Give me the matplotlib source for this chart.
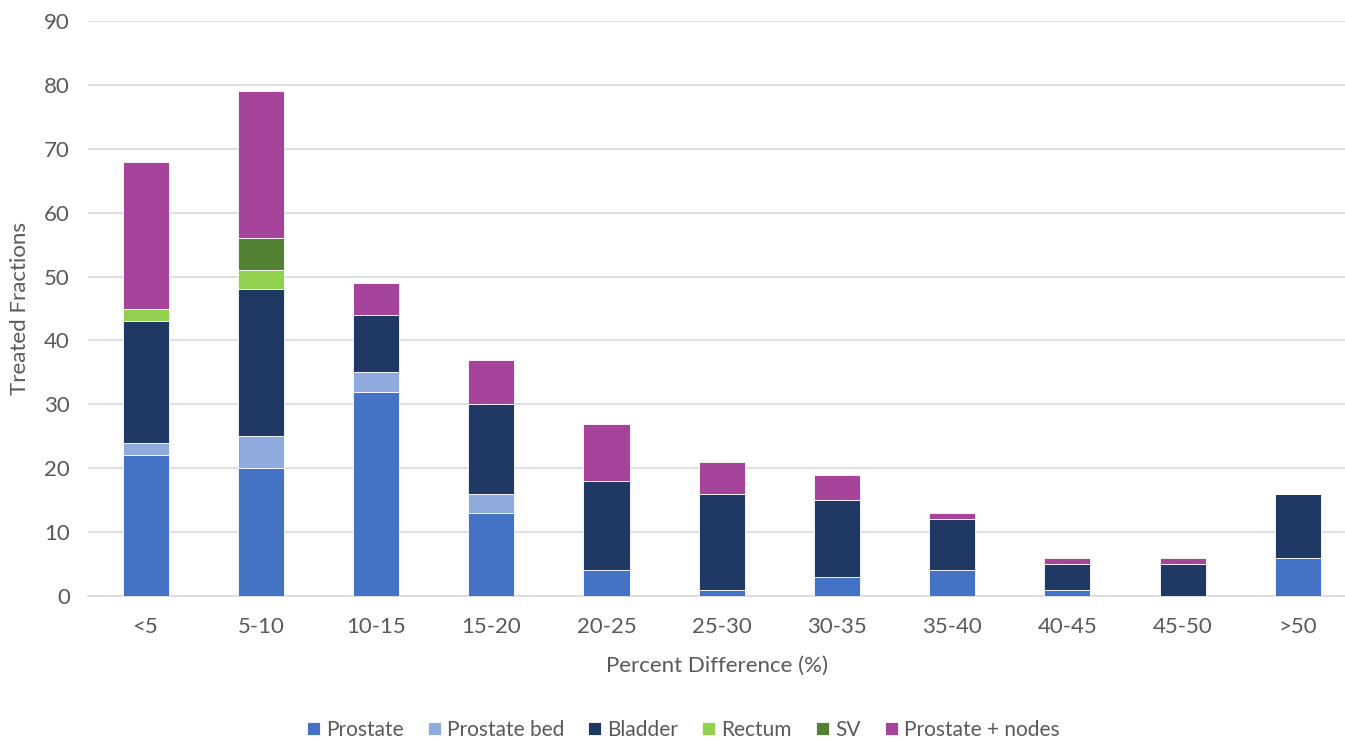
import matplotlib.pyplot as plt
import numpy as np

# Treated fractions per percent-difference bin, stacked by treatment site
bins = ["<5", "5-10", "10-15", "15-20", "20-25", "25-30", "30-35", "35-40", "40-45", "45-50", ">50"]
prostate = [22, 20, 32, 13, 4, 1, 3, 4, 1, 0, 6]
prostate_bed = [2, 5, 3, 3, 0, 0, 0, 0, 0, 0, 0]
bladder = [19, 23, 9, 14, 14, 15, 12, 8, 4, 5, 10]
rectum = [2, 3, 0, 0, 0, 0, 0, 0, 0, 0, 0]
sv = [0, 5, 0, 0, 0, 0, 0, 0, 0, 0, 0]
prostate_nodes = [23, 23, 5, 7, 9, 5, 4, 1, 1, 1, 0]

series = [
    ("Prostate", prostate, "#4472C4"),
    ("Prostate bed", prostate_bed, "#8FAADC"),
    ("Bladder", bladder, "#1F3864"),
    ("Rectum", rectum, "#92D050"),
    ("SV", sv, "#548235"),
    ("Prostate + nodes", prostate_nodes, "#A5449A"),
]

plt.rcParams["font.family"] = ["Lato", "DejaVu Sans"]
text_col = "#595959"

fig = plt.figure(figsize=(13.45, 7.41), dpi=100)
ax = fig.add_axes([88 / 1345, 1 - 596 / 741, 1 - 88 / 1345, 575 / 741])

x = np.arange(len(bins))
bottom = np.zeros(len(bins))
for name, vals, col in series:
    vals = np.array(vals, dtype=float)
    ax.bar(x, vals, width=0.4, bottom=bottom, color=col, label=name,
           edgecolor="white", linewidth=0.6, zorder=3)
    bottom += vals

ax.set_ylim(0, 90)
ax.set_yticks(range(0, 91, 10))
ax.set_xlim(-0.5, 10.41)
ax.set_xticks(x)
ax.set_xticklabels(bins)
ax.grid(axis="y", color="#D9D9D9", linewidth=1.2, zorder=0)
for s in ["top", "right", "left"]:
    ax.spines[s].set_visible(False)
ax.spines["bottom"].set_color("#D9D9D9")
ax.spines["bottom"].set_linewidth(1.2)
ax.tick_params(length=0, labelsize=16, colors=text_col)
ax.tick_params(axis="x", pad=15)
ax.tick_params(axis="y", pad=13)

ax.set_xlabel("Percent Difference (%)", fontsize=16, color=text_col, labelpad=14)
ax.set_ylabel("Treated Fractions", fontsize=16, color=text_col)
ax.yaxis.set_label_coords(-0.046, 0.5)

leg = fig.legend(loc="center", bbox_to_anchor=(0.508, 1 - 730 / 741), ncol=6,
                 frameon=False, fontsize=15, handlelength=0.62, handleheight=0.62,
                 handletextpad=0.3, columnspacing=1.15)
for t in leg.get_texts():
    t.set_color(text_col)

fig.savefig("out.png", dpi=100)
